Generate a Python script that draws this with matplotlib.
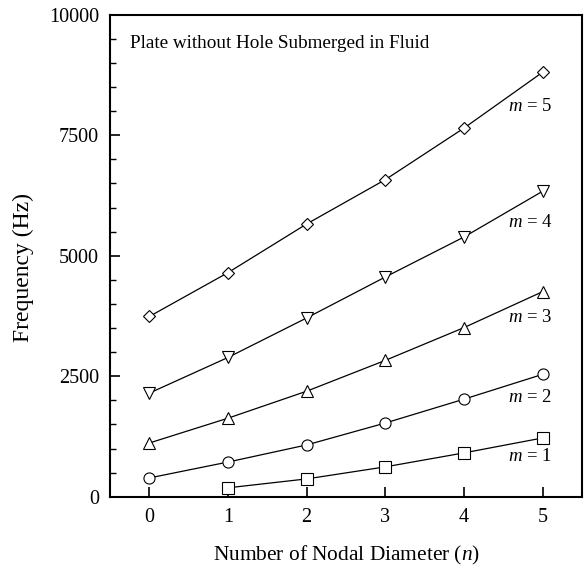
import matplotlib.pyplot as plt

plt.rcParams['font.family'] = ['Liberation Serif', 'DejaVu Serif']
plt.rcParams['mathtext.fontset'] = 'custom'
plt.rcParams['mathtext.it'] = 'Liberation Serif:italic'
plt.rcParams['mathtext.rm'] = 'Liberation Serif'

# nodal diameter n
n_all = [0, 1, 2, 3, 4, 5]
n_m1 = [1, 2, 3, 4, 5]

# frequencies (Hz) for each m
freq_m1 = [185, 370, 620, 910, 1220]
freq_m2 = [390, 720, 1075, 1530, 2025, 2540]
freq_m3 = [1115, 1630, 2190, 2830, 3510, 4256]
freq_m4 = [2150, 2890, 3710, 4560, 5390, 6340]
freq_m5 = [3740, 4650, 5660, 6580, 7650, 8810]

labels = ['$m$ = 1', '$m$ = 2', '$m$ = 3', '$m$ = 4', '$m$ = 5']
label_y = [825, 2065, 3720, 5700, 8100]

fig = plt.figure(figsize=(5.85, 5.69), dpi=100)
ax = fig.add_axes([0.188, 0.127, 0.807, 0.847])

series = [(n_m1, freq_m1, 's'), (n_all, freq_m2, 'o'), (n_all, freq_m3, '^'),
          (n_all, freq_m4, 'v'), (n_all, freq_m5, 'D')]
for (x, y, mk) in series:
    ms = 6 if mk == 'D' else 8
    ax.plot(x, y, color='black', lw=0.9, marker=mk, ms=ms,
            mfc='white', mec='black', mew=0.8)

for lab, ly in zip(labels, label_y):
    ax.text(5.12, ly, lab, ha='right', va='center', fontsize=13.5)

ax.text(-0.24, 9400, 'Plate without Hole Submerged in Fluid',
        ha='left', va='center', fontsize=13.8)

ax.set_xlim(-0.5, 5.5)
ax.set_ylim(0, 10000)
ax.set_xticks(n_all)
ax.set_yticks([0, 2500, 5000, 7500, 10000])
ax.set_yticks(range(0, 10001, 500), minor=True)
ax.tick_params(direction='in', labelsize=14.5, length=7, width=1.2, pad=8)
ax.tick_params(which='minor', direction='in', length=4, width=1)
for s in ax.spines.values():
    s.set_linewidth(1.5)

ax.set_xlabel('Number of Nodal Diameter ($n$)', fontsize=15.4, labelpad=12)
ax.set_ylabel('Frequency (Hz)', fontsize=17, labelpad=8)
ax.yaxis.set_label_coords(-0.16, 0.475)

fig.savefig('out.png', dpi=100)
